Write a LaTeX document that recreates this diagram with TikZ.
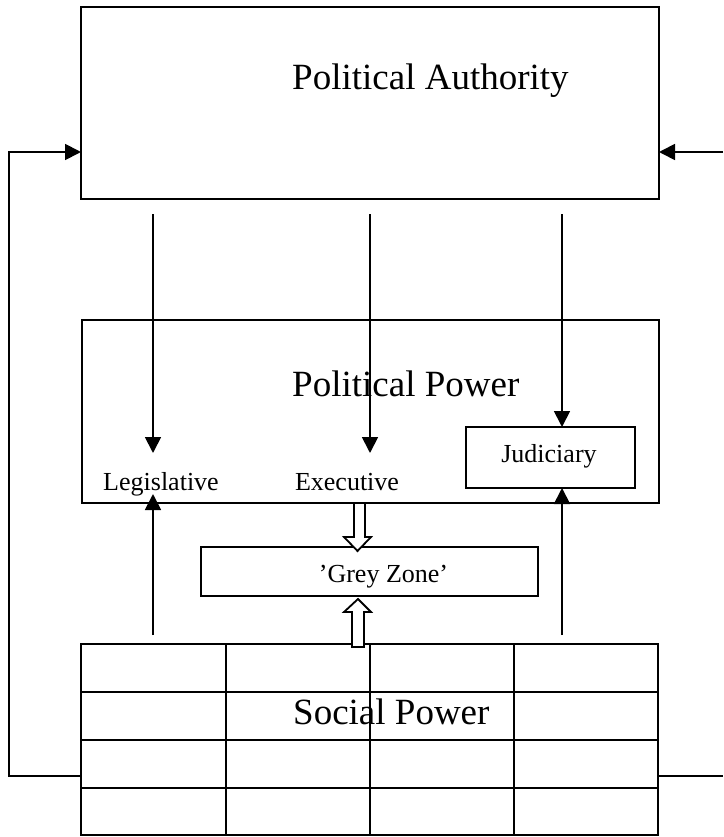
\documentclass[tikz,border=0pt]{standalone}
\usepackage{fontspec}
\setmainfont{Liberation Serif}
\usetikzlibrary{arrows.meta,calc}
\begin{document}
\begin{tikzpicture}[x=1pt,y=-1pt,
 box/.style={draw,line width=1.8pt,inner sep=0pt,outer sep=0pt},
 big/.style={font=\fontsize{37}{40}\selectfont,inner sep=0pt,anchor=base west},
 small/.style={font=\fontsize{26}{30}\selectfont,inner sep=0pt,anchor=base},
 arr/.style={line width=1.8pt,-{Triangle[length=16pt,width=16pt]}},
 ln/.style={line width=1.8pt},
 hollow/.style={draw,line width=1.8pt,fill=white,line join=miter}]
\useasboundingbox (0,0) rectangle (723,837);
% boxes
\node[box,minimum width=578pt,minimum height=192pt] (auth) at (370,103) {};
\node[big] (authT) at (292,90) {Political Authority};
\node[box,minimum width=577pt,minimum height=183pt] (pow) at (370.5,411.5) {};
\node[big] (powT) at (292,396) {Political Power};
\node[box,minimum width=169pt,minimum height=61pt] (jud) at (550.5,457.5) {};
\node[small] (judT) at (549,462) {Judiciary};
\node[small] (leg) at (161,490) {Legislative};
\node[small] (exe) at (347,490) {Executive};
\node[box,minimum width=337pt,minimum height=49pt] (grey) at (369.5,571.5) {};
\node[small] (greyT) at (383.5,582) {’Grey Zone’};
\node[box,minimum width=577pt,minimum height=191pt] (soc) at (369.5,739.5) {};
\node[big] (socT) at (293,724) {Social Power};
\foreach \x in {226,370,514} \draw[ln] (\x,644) -- (\x,835);
\foreach \y in {692,740,788} \draw[ln] (81,\y) -- (658,\y);
% coordinates
\coordinate (aL) at (153,214); \coordinate (tL) at (153,453);
\coordinate (aE) at (370,214); \coordinate (tE) at (370,453);
\coordinate (aJ) at (562,214); \coordinate (tJ) at (jud.north -| aJ);
\coordinate (uL) at (153,635); \coordinate (uLt) at (153,494);
\coordinate (uJ) at (562,635); \coordinate (uJt) at (jud.south -| uJ);
\coordinate (fL0) at (soc.west |- 0,776); \coordinate (fL1) at (9,776);
\coordinate (fL2) at (9,152); \coordinate (fL3) at (auth.west |- 0,152);
\coordinate (fR0) at (soc.east |- 0,776); \coordinate (fR1) at (723,776);
\coordinate (gR0) at (723,152); \coordinate (gR1) at (auth.east |- 0,152);
% arrows
\draw[arr] (aL) -- (tL);
\draw[arr] (aE) -- (tE);
\draw[arr] (aJ) -- (tJ);
\draw[arr] (uL) -- (uLt);
\draw[arr] (uJ) -- (uJt);
\draw[arr] (fL0) -- (fL1) -- (fL2) -- (fL3);
\draw[ln] (fR0) -- (fR1);
\draw[arr] (gR0) -- (gR1);
% hollow arrows
\draw[hollow] (354,503) -- (354,537) -- (344,537) -- (357.5,551) -- (371,537) -- (365,537) -- (365,503) -- cycle;
\draw[hollow] (352,647) -- (352,612) -- (344,612) -- (358,599) -- (371,612) -- (364,612) -- (364,647) -- cycle;
\end{tikzpicture}
\end{document}
